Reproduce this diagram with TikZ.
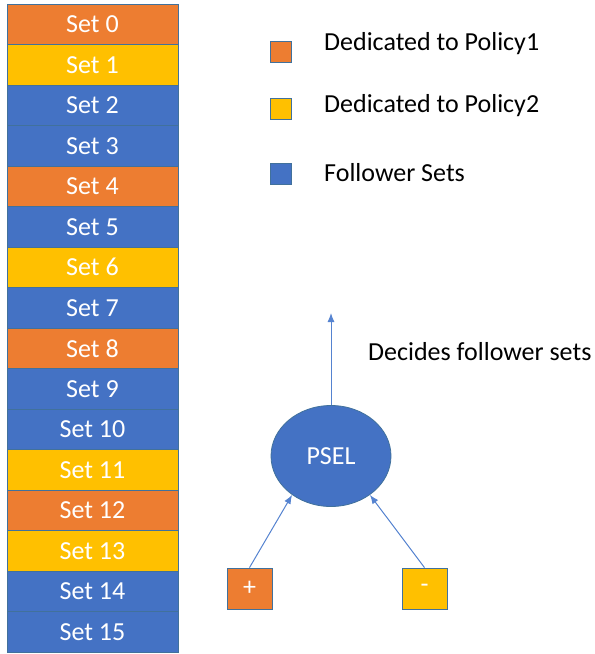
\documentclass[tikz,border=0pt]{standalone}
\usepackage{xcolor}
\usepackage{fontspec}
\setmainfont{Carlito}
\usepackage{tikz}
\usetikzlibrary{shapes.geometric, arrows.meta}
\definecolor{P1}{HTML}{ed7d31}
\definecolor{P2}{HTML}{ffc000}
\definecolor{FS}{HTML}{4472c4}
\definecolor{BD}{HTML}{41719c}
\definecolor{AR}{HTML}{5583d0}
\tikzset{
  setbox/.style={draw=BD, line width=0.8pt, minimum width=171pt, minimum height=40.5pt, text centered, text=white, font=\fontsize{26}{30}\selectfont},
  keybox/.style={draw=BD, line width=0.8pt, minimum width=21pt, minimum height=21pt, inner sep=0pt},
  keytext/.style={anchor=west, inner sep=0pt, font=\fontsize{26}{30}\selectfont},
  signbox/.style={draw=BD, line width=0.8pt, minimum width=45pt, minimum height=41pt, text=white, font=\fontsize{26}{30}\selectfont},
  flow/.style={draw=AR, line width=1pt, -{Latex[length=9pt, width=7pt]}}
}

\begin{document}
\begin{tikzpicture}[x=1pt, y=-1pt]%
\useasboundingbox (0,0) rectangle (595,654);%
% the sets
\node[setbox, fill=P1] (s0) at (92.5, 24.25) {Set 0};%
\node[setbox, fill=P2] (s1) at (92.5, 64.75) {Set 1};%
\node[setbox, fill=FS] (s2) at (92.5, 105.25) {Set 2};%
\node[setbox, fill=FS] (s3) at (92.5, 145.75) {Set 3};%
\node[setbox, fill=P1] (s4) at (92.5, 186.25) {Set 4};%
\node[setbox, fill=FS] (s5) at (92.5, 226.75) {Set 5};%
\node[setbox, fill=P2] (s6) at (92.5, 267.25) {Set 6};%
\node[setbox, fill=FS] (s7) at (92.5, 307.75) {Set 7};%
\node[setbox, fill=P1] (s8) at (92.5, 348.25) {Set 8};%
\node[setbox, fill=FS] (s9) at (92.5, 388.75) {Set 9};%
\node[setbox, fill=FS] (s10) at (92.5, 429.25) {Set 10};%
\node[setbox, fill=P2] (s11) at (92.5, 469.75) {Set 11};%
\node[setbox, fill=P1] (s12) at (92.5, 510.25) {Set 12};%
\node[setbox, fill=P2] (s13) at (92.5, 550.75) {Set 13};%
\node[setbox, fill=FS] (s14) at (92.5, 591.25) {Set 14};%
\node[setbox, fill=FS] (s15) at (92.5, 631.75) {Set 15};%
% legend
\node[keybox, fill=P1] (k1) at (281, 52) {};%
\node[keytext] (t1) at (324, 44) {Dedicated to Policy1};%
\node[keybox, fill=P2] (k2) at (281, 109) {};%
\node[keytext] (t2) at (324, 106) {Dedicated to Policy2};%
\node[keybox, fill=FS] (k3) at (281, 174) {};%
\node[keytext] (t3) at (324, 173) {Follower Sets};%
% selector
\node[ellipse, draw=BD, line width=0.8pt, fill=FS, minimum width=120pt, minimum height=101pt, text=white, font=\fontsize{26}{30}\selectfont] (psel) at (331, 456) {PSEL};%
\coordinate (top) at (331, 313);%
\node[keytext] (dec) at (368, 352) {Decides follower sets};%
\node[signbox, fill=P1] (plus) at (249.5, 588.5) {+};%
\node[signbox, fill=P2] (minus) at (424.5, 588.5) {-};%
\draw[flow] (psel.north) -- (top);%
\draw[flow] (plus.north) -- (psel.225);%
\draw[flow] (minus.north) -- (psel.315);%
\end{tikzpicture}
\end{document}
